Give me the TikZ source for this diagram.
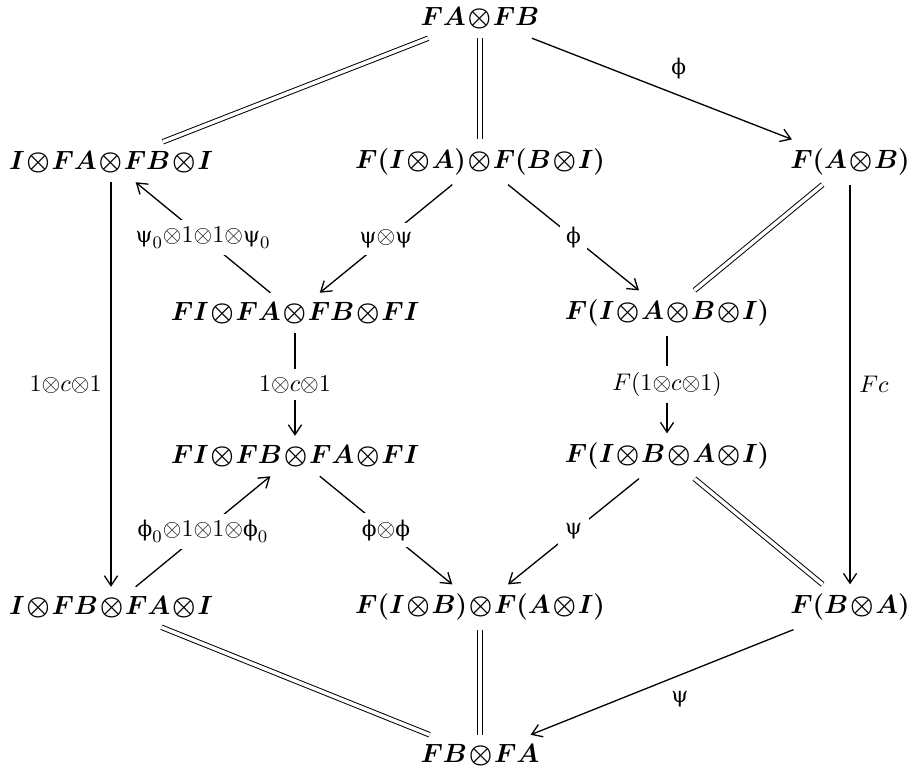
\documentclass[tikz,border=0pt,12pt]{standalone}
\usepackage{fontspec}
\usepackage{amsmath}
\usepackage{amssymb}
\usetikzlibrary{arrows.meta}
\newfontfamily\grfont[Scale=0.9]{DejaVu Serif}
\newcommand{\gpsi}{\mbox{\grfont ψ}}
\newcommand{\gphi}{\mbox{\grfont ϕ}}

\begin{document}
\begin{tikzpicture}[
  x=0.016cm, y=-0.016cm,
  every node/.style={font={\boldmath\medmuskip=1mu\relax}},
  every path/.style={semithick},
  lbl/.style={auto=false,fill=white,inner sep=3pt,font=\unboldmath\small},
  side/.style={font=\unboldmath\small},
  ar/.style={->,>={Straight Barb[length=4.5pt,width=6pt]}},
  eq/.style={double,double distance=1.6pt,line width=0.45pt},
  auto
  ] %
    \useasboundingbox (0,0) rectangle (917,773);
    % rows of the hexagon
    \node (fafb) at (480,18) {$FA\otimes FB$};
    \node (ifafbi) at (111,162) {$I\otimes FA\otimes FB\otimes I$};
    \node (fiafbi) at (480,162) {$F(I\otimes A)\otimes F(B\otimes I)$};
    \node (fab) at (850,162) {$F(A\otimes B)$};
    \node (fifafbfi) at (295,313) {$FI\otimes FA\otimes FB\otimes FI$};
    \node (fiabi) at (667,313) {$F(I\otimes A\otimes B\otimes I)$};
    \node (fifbfafi) at (295,456) {$FI\otimes FB\otimes FA\otimes FI$};
    \node (fibai) at (667,456) {$F(I\otimes B\otimes A\otimes I)$};
    \node (ifbfai) at (111,607) {$I\otimes FB\otimes FA\otimes I$};
    \node (fibfai) at (480,607) {$F(I\otimes B)\otimes F(A\otimes I)$};
    \node (fba) at (850,607) {$F(B\otimes A)$};
    \node (fbfa) at (480,755) {$FB\otimes FA$};
    % top half
    \draw[eq] (fafb) -- (ifafbi);
    \draw[eq] (fafb) -- (fiafbi);
    \draw[ar] (fafb) edge node[side] {$\gphi$} (fab);
    \draw[ar] (fiafbi) edge node[lbl] {$\gpsi{\otimes}\gpsi$} (fifafbfi);
    \draw[ar] (fiafbi) edge node[lbl] {$\gphi$} (fiabi);
    \draw[ar] (fifafbfi) edge node[lbl] {$\gpsi_0{\otimes}1{\otimes}1{\otimes}\gpsi_0$} (ifafbi);
    \draw[eq] (fab) -- (fiabi);
    % verticals
    \draw[ar] (ifafbi) edge node[side,swap] {$1{\otimes}c{\otimes}1$} (ifbfai);
    \draw[ar] (fifafbfi) edge node[lbl] {$1{\otimes}c{\otimes}1$} (fifbfafi);
    \draw[ar] (fiabi) edge node[lbl] {$F(1{\otimes}c{\otimes}1)$} (fibai);
    \draw[ar] (fab) edge node[side] {$Fc$} (fba);
    % bottom half
    \draw[ar] (ifbfai) edge node[lbl] {$\gphi_0{\otimes}1{\otimes}1{\otimes}\gphi_0$} (fifbfafi);
    \draw[ar] (fifbfafi) edge node[lbl] {$\gphi{\otimes}\gphi$} (fibfai);
    \draw[ar] (fibai) edge node[lbl] {$\gpsi$} (fibfai);
    \draw[eq] (fibai) -- (fba);
    \draw[eq] (ifbfai) -- (fbfa);
    \draw[eq] (fibfai) -- (fbfa);
    \draw[ar] (fba) edge node[side] {$\gpsi$} (fbfa);
\end{tikzpicture}
\end{document}
